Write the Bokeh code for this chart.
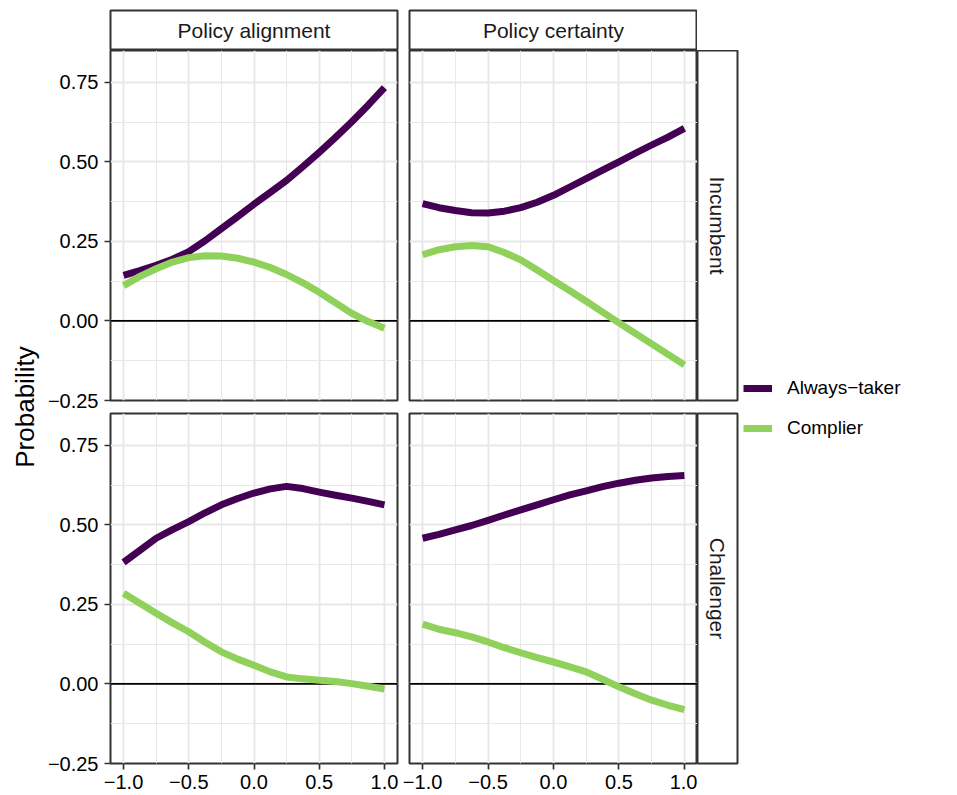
import math
from bokeh.plotting import figure
from bokeh.models import (Range1d, LinearAxis, Grid, FixedTicker, Span, Label,
                          Legend, LegendItem, ColumnDataSource)
from bokeh.layouts import row, column
from bokeh.embed import file_html
from bokeh.resources import INLINE

# ---------------- data ----------------
x_vals = [-1.0, -0.875, -0.75, -0.625, -0.5, -0.375, -0.25, -0.125, 0.0,
          0.125, 0.25, 0.375, 0.5, 0.625, 0.75, 0.875, 1.0]

col_labels = ["Policy alignment", "Policy certainty"]
row_labels = ["Incumbent", "Challenger"]
series_labels = ["Always\u2212taker", "Complier"]

taker_align_inc = [0.143, 0.158, 0.175, 0.194, 0.218, 0.252, 0.290, 0.328, 0.367,
                   0.404, 0.442, 0.485, 0.530, 0.577, 0.626, 0.678, 0.733]
compl_align_inc = [0.111, 0.140, 0.164, 0.185, 0.199, 0.205, 0.204, 0.197, 0.185,
                   0.168, 0.146, 0.120, 0.090, 0.057, 0.024, -0.002, -0.023]
taker_cert_inc = [0.369, 0.356, 0.347, 0.340, 0.339, 0.345, 0.356, 0.373, 0.395,
                  0.421, 0.447, 0.474, 0.500, 0.527, 0.553, 0.578, 0.605]
compl_cert_inc = [0.208, 0.224, 0.233, 0.237, 0.233, 0.215, 0.192, 0.160, 0.127,
                  0.095, 0.062, 0.028, -0.006, -0.039, -0.072, -0.105, -0.138]
taker_align_cha = [0.382, 0.420, 0.458, 0.485, 0.510, 0.538, 0.563, 0.583, 0.600,
                   0.613, 0.621, 0.614, 0.603, 0.593, 0.584, 0.574, 0.563]
compl_align_cha = [0.285, 0.254, 0.222, 0.192, 0.164, 0.131, 0.101, 0.078, 0.059,
                   0.038, 0.022, 0.016, 0.012, 0.008, 0.001, -0.007, -0.016]
taker_cert_cha = [0.458, 0.470, 0.484, 0.498, 0.514, 0.531, 0.547, 0.563, 0.579,
                  0.594, 0.607, 0.620, 0.631, 0.640, 0.647, 0.652, 0.655]
compl_cert_cha = [0.188, 0.172, 0.161, 0.148, 0.132, 0.114, 0.098, 0.083, 0.069,
                  0.054, 0.038, 0.015, -0.009, -0.031, -0.051, -0.067, -0.081]

x_major = [-1.0, -0.5, 0.0, 0.5, 1.0]
x_minor = [-0.75, -0.25, 0.25, 0.75]
x_tick_labels = ["\u22121.0", "\u22120.5", "0.0", "0.5", "1.0"]
y_major = [-0.25, 0.0, 0.25, 0.5, 0.75]
y_minor = [-0.125, 0.125, 0.375, 0.625]
y_tick_labels = ["\u22120.25", "0.00", "0.25", "0.50", "0.75"]

# ---------------- style ----------------
FONT = "Liberation Sans"
PURPLE = "#440154"
GREEN = "#8FD15A"
BORDER = "#333333"
GRID = "#E8E8E8"
LW = 7
TICK_FS = "20px"
STRIP_FS = "21px"
LEGEND_FS = "19px"
TITLE_FS = "26px"
series_colors = [PURPLE, GREEN]


def base_fig(fw, fh, xr, yr, bl, br, bt, bb, outline=True):
    f = figure(frame_width=fw, frame_height=fh, x_range=xr, y_range=yr,
               x_axis_location=None, y_axis_location=None,
               toolbar_location=None, output_backend="svg", title=None,
               min_border=0, min_border_left=bl, min_border_right=br,
               min_border_top=bt, min_border_bottom=bb)
    f.grid.visible = False
    f.background_fill_color = "white"
    f.border_fill_color = "white"
    if outline:
        f.outline_line_color = BORDER
        f.outline_line_width = 2
    else:
        f.outline_line_color = None
    return f


def style_axis(ax, standoff):
    ax.axis_line_color = None
    ax.major_tick_line_color = BORDER
    ax.major_tick_line_width = 1.7
    ax.major_tick_out = 6
    ax.major_tick_in = 0
    ax.minor_tick_line_color = None
    ax.major_label_text_font = FONT
    ax.major_label_text_font_size = TICK_FS
    ax.major_label_text_color = "black"
    ax.major_label_standoff = standoff


# vertical borders (px) of the top and bottom panel rows
ROW_BT = [0, 1]
ROW_BB = [12, 24]


def panel(ci, ri, taker, compl):
    fw = 287 if ci == 0 else 288
    bl = 70 if ci == 0 else 8
    br = 4 if ci == 0 else 0
    p = base_fig(fw, 350, Range1d(-1.1, 1.1), Range1d(-0.25, 0.85), bl, br,
                 ROW_BT[ri], ROW_BB[ri])

    p.add_layout(Grid(dimension=0, ticker=FixedTicker(ticks=x_major, minor_ticks=x_minor),
                      grid_line_color=GRID, grid_line_width=2,
                      minor_grid_line_color=GRID, minor_grid_line_width=1))
    p.add_layout(Grid(dimension=1, ticker=FixedTicker(ticks=y_major, minor_ticks=y_minor),
                      grid_line_color=GRID, grid_line_width=2,
                      minor_grid_line_color=GRID, minor_grid_line_width=1))
    p.add_layout(Span(location=0, dimension="width", line_color="black",
                      line_width=1.7, level="underlay"))

    if ci == 0:
        ya = LinearAxis(ticker=FixedTicker(ticks=y_major),
                        major_label_overrides=dict(zip(y_major, y_tick_labels)))
        style_axis(ya, 6)
        p.add_layout(ya, "left")
    if ri == 1:
        xa = LinearAxis(ticker=FixedTicker(ticks=x_major),
                        major_label_overrides=dict(zip(x_major, x_tick_labels)))
        style_axis(xa, 5)
        p.add_layout(xa, "below")

    for vals, col in zip([taker, compl], series_colors):
        src = ColumnDataSource(dict(x=x_vals, y=vals))
        p.line("x", "y", source=src, line_color=col, line_width=LW, line_join="round")
    return p


def top_strip(ci):
    fw = 287 if ci == 0 else 288
    bl = 70 if ci == 0 else 8
    br = 4 if ci == 0 else 0
    s = base_fig(fw, 40, Range1d(0, 1), Range1d(0, 1), bl, br, 10, 0)
    s.add_layout(Label(x=0.5, y=0.5, text=col_labels[ci], text_align="center",
                       text_baseline="middle", text_font=FONT,
                       text_font_size=STRIP_FS, text_color="#1A1A1A"))
    return s


def right_strip(ri):
    s = base_fig(40, 350, Range1d(0, 1), Range1d(0, 1), 0, 2, ROW_BT[ri], ROW_BB[ri])
    s.add_layout(Label(x=0.5, y=0.5, text=row_labels[ri], text_align="center",
                       text_baseline="middle", angle=-math.pi / 2, text_font=FONT,
                       text_font_size=STRIP_FS, text_color="#1A1A1A"))
    return s


TOTAL_H = 794

# y axis title
ylab = figure(width=40, height=TOTAL_H, x_range=Range1d(0, 1), y_range=Range1d(0, 1),
              x_axis_location=None, y_axis_location=None, toolbar_location=None,
              output_backend="svg", title=None, min_border=0)
ylab.grid.visible = False
ylab.outline_line_color = None
ylab.add_layout(Label(x=0.6, y=0.488, text="Probability", text_align="center",
                      text_baseline="middle", angle=math.pi / 2, text_font=FONT,
                      text_font_size=TITLE_FS, text_color="black"))

pA = panel(0, 0, taker_align_inc, compl_align_inc)
pB = panel(1, 0, taker_cert_inc, compl_cert_inc)
pC = panel(0, 1, taker_align_cha, compl_align_cha)
pD = panel(1, 1, taker_cert_cha, compl_cert_cha)

# legend figure: the series are drawn here out of view, only their legend shows
lf = figure(width=210, height=TOTAL_H, x_range=Range1d(50, 51), y_range=Range1d(50, 51),
            x_axis_location=None, y_axis_location=None, toolbar_location=None,
            output_backend="svg", title=None, min_border=0)
lf.grid.visible = False
lf.outline_line_color = None
items = []
for lab, col, vals in zip(series_labels, series_colors, [taker_align_inc, compl_align_inc]):
    r = lf.line(x=x_vals, y=vals, line_color=col, line_width=LW)
    items.append(LegendItem(label=lab, renderers=[r]))
legend = Legend(items=items, location=(4, 354), orientation="vertical",
                glyph_width=29, glyph_height=24, label_height=24, spacing=16,
                padding=0, margin=0, border_line_color=None,
                background_fill_color=None, label_standoff=15,
                label_text_font=FONT, label_text_font_size=LEGEND_FS,
                label_text_color="black")
lf.add_layout(legend, "center")

grid = column(
    row(top_strip(0), top_strip(1), spacing=0),
    row(pA, pB, right_strip(0), spacing=0),
    row(pC, pD, right_strip(1), spacing=0),
    spacing=0,
)
layout = row(ylab, grid, lf, spacing=0)

open("out.html", "w").write(file_html(layout, INLINE))
